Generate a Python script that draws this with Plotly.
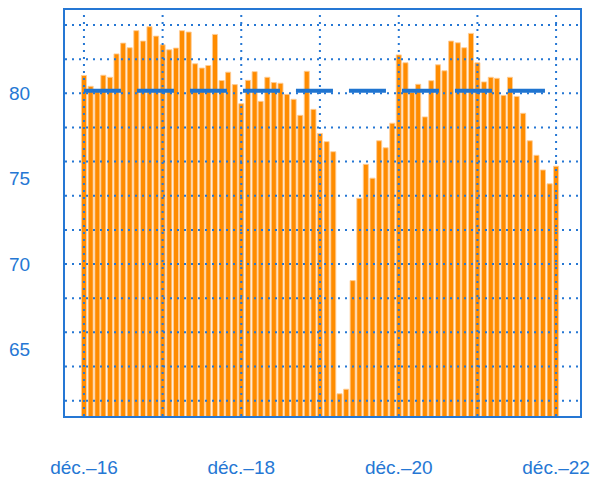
import pandas as pd
import plotly.graph_objects as go

# Monthly categories: Dec 2016 .. Dec 2022
months = pd.date_range("2016-12-01", "2022-12-01", freq="MS")

values = [
    81.04, 80.41, 80.10, 81.06, 80.94, 82.31, 82.94, 82.67, 83.67, 83.06, 83.90, 83.35,  # Dec16-Nov17
    82.84, 82.55, 82.65, 83.67, 83.59, 81.73, 81.48, 81.63, 83.45, 80.75, 81.24, 80.51,  # Dec17-Nov18
    79.39, 80.76, 81.27, 79.53, 80.94, 80.63, 80.59, 79.94, 79.65, 78.71, 81.29, 79.06,  # Dec18-Nov19
    77.65, 77.17, 76.58, 62.40, 62.67, 69.03, 73.85, 75.84, 75.03, 77.22, 76.81, 78.25,  # Dec19-Nov20
    82.25, 81.79, 80.05, 80.53, 78.62, 80.74, 81.67, 81.32, 83.06, 82.96, 82.67, 83.51,  # Dec20-Nov21
    81.79, 80.67, 80.94, 80.88, 79.88, 80.94, 79.82, 78.83, 77.22, 76.37, 75.51, 74.70,  # Dec21-Nov22
    75.73,                                                                               # Dec22
]

target_value = 80.15

x_tick_dates = ["2016-12-01", "2018-12-01", "2020-12-01", "2022-12-01"]
x_tick_text = ["déc.–16", "déc.–18", "déc.–20", "déc.–22"]
y_tick_vals = [65, 70, 75, 80]
y_grid_vals = [62, 64, 66, 68, 70, 72, 74, 76, 78, 80, 82, 84]
x_grid_dates = ["2016-12-01", "2017-12-01", "2018-12-01", "2019-12-01",
                "2020-12-01", "2021-12-01", "2022-12-01"]

BLUE = "#2577d4"
ORANGE = "#ff8c00"

fig = go.Figure()
fig.add_trace(go.Bar(
    x=months, y=values,
    marker=dict(color=ORANGE, line=dict(color="rgba(255,205,150,0.9)", width=1)),
    hoverinfo="x+y",
))
fig.add_trace(go.Scatter(
    x=[months[0], months[-1]], y=[target_value, target_value],
    mode="lines",
    line=dict(color="#1f74d0", width=4, dash="37px,16px"),
))

shapes = []
for g in y_grid_vals:
    shapes.append(dict(type="line", xref="paper", yref="y", x0=0, x1=1, y0=g, y1=g,
                       layer="above", line=dict(color=BLUE, width=2, dash="2px,5px")))
for d in x_grid_dates:
    shapes.append(dict(type="line", xref="x", yref="paper", x0=d, x1=d, y0=0, y1=1,
                       layer="above", line=dict(color=BLUE, width=2, dash="2px,5px")))

fig.update_layout(
    width=590, height=477,
    margin=dict(l=65, r=10, t=10, b=61),
    paper_bgcolor="white", plot_bgcolor="white",
    showlegend=False,
    bargap=0.16,
    shapes=shapes,
    font=dict(family="Liberation Sans, Arial, sans-serif", size=19, color=BLUE),
)
fig.update_xaxes(
    range=["2016-09-04", "2023-03-22"],
    tickvals=x_tick_dates, ticktext=x_tick_text,
    showgrid=False, zeroline=False, ticks="",
    showline=True, linecolor=BLUE, linewidth=2, mirror=True,
    ticklabelstandoff=33, automargin=False,
    tickfont=dict(size=19, color=BLUE),
)
fig.update_yaxes(
    range=[61.1, 84.88],
    tickvals=y_tick_vals,
    showgrid=False, zeroline=False, ticks="",
    showline=True, linecolor=BLUE, linewidth=2, mirror=True,
    ticklabelstandoff=29, automargin=False,
    tickfont=dict(size=19, color=BLUE),
)

fig.write_html(
    "out.html",
    config={"displayModeBar": False},
    post_script="document.body.style.margin='0';document.body.style.overflow='hidden';",
)
